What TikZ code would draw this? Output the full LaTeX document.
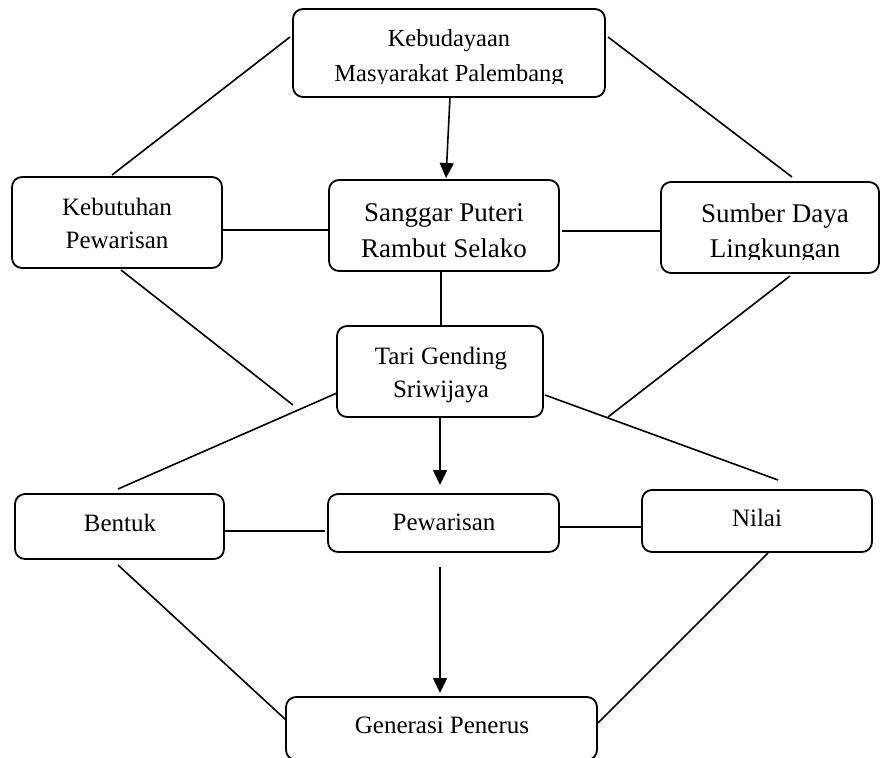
\documentclass[tikz,border=0pt]{standalone}
\usepackage{fontspec}
\setmainfont{Liberation Serif}
\usetikzlibrary{arrows.meta,calc}
\begin{document}
\begin{tikzpicture}[x=1pt,y=-1pt,
  box/.style={draw=black, line width=1.8pt, rounded corners=10pt, inner sep=0pt, outer sep=0pt},
  txt/.style={anchor=base, inner sep=0pt, outer sep=0pt, text=black},
  conn/.style={draw=black, line width=1.6pt},
  arr/.style={conn, -{Triangle[length=15pt,width=14pt]}},
  fs/.style={font=\fontsize{24.5}{29}\selectfont},
  fm/.style={font=\fontsize{25}{30}\selectfont},
  fl/.style={font=\fontsize{27}{32}\selectfont}
]
\useasboundingbox (0,0) rectangle (880,757);
\clip (0,0) rectangle (880,757);

% boxes
\node[box, minimum width=312pt, minimum height=88pt] (top) at (449,53) {};
\node[box, minimum width=210pt, minimum height=91pt] (kb) at (117,222.5) {};
\node[box, minimum width=230pt, minimum height=91pt] (sg) at (444,225.5) {};
\node[box, minimum width=218pt, minimum height=91pt] (sd) at (770,227.5) {};
\node[box, minimum width=206pt, minimum height=91pt] (tg) at (440,371.5) {};
\node[box, minimum width=209pt, minimum height=65pt] (bt) at (119.5,526.5) {};
\node[box, minimum width=231pt, minimum height=58pt] (pw) at (443.5,523) {};
\node[box, minimum width=230pt, minimum height=62pt] (nl) at (757,521) {};
\node[box, minimum width=311pt, minimum height=63pt] (gp) at (441.5,728.5) {};

% texts
\node[txt, fs] (topa) at (449,47) {Kebudayaan};
\begin{scope}
  \clip (293,9) rectangle (605,84);
  \node[txt, fs] (topb) at (449,82) {Masyarakat Palembang};
\end{scope}
\node[txt, fm] (kba) at (117,215) {Kebutuhan};
\node[txt, fm] (kbb) at (117,248) {Pewarisan};
\node[txt, fl] (sga) at (444,221) {Sanggar Puteri};
\node[txt, fl] (sgb) at (444,257) {Rambut Selako};
\node[txt, fl] (sda) at (775,222) {Sumber Daya};
\begin{scope}
  \clip (661,182) rectangle (879,259);
  \node[txt, fl] (sdb) at (775,257) {Lingkungan};
\end{scope}
\node[txt, fm] (tga) at (441,364) {Tari Gending};
\node[txt, fm] (tgb) at (441,397) {Sriwijaya};
\node[txt, fm] (btt) at (120,531) {Bentuk};
\node[txt, fm] (pwt) at (444,530) {Pewarisan};
\node[txt, fm] (nlt) at (757,526) {Nilai};
\node[txt, fm] (gpt) at (442,733) {Generasi Penerus};

% free ends
\coordinate (kbend) at (293,405);
\coordinate (sdend) at (608,417);

% connectors
\draw[conn] ($(top.north west)+(-3,28)$) -- ($(kb.north west)+(100,-2)$);
\draw[conn] ($(top.north east)+(3,28)$) -- ($(sd.north west)+(131,-5)$);
\draw[arr] ($(top.south)+(1,0)$) -- ($(sg.north)+(2,-2)$);
\draw[conn] ($(kb.east)+(0,7.5)$) -- ($(sg.west)+(-1,4.5)$);
\draw[conn] ($(sg.east)+(3,5.5)$) -- ($(sd.west)+(0,3.5)$);
\draw[conn] ($(sg.south)+(-3,0)$) -- ($(tg.north)+(1,0)$);
\draw[conn] ($(kb.south)+(4,2)$) -- (kbend);
\draw[conn] ($(sd.south)+(20,3)$) -- (sdend);
\draw[conn] ($(tg.west)+(0,21.5)$) -- ($(bt.north)+(-1.5,-5)$);
\draw[conn] ($(tg.east)+(2,23.5)$) -- ($(nl.north)+(21,-10)$);
\draw[arr] (tg.south) -- ($(pw.north)+(-3.5,-9)$);
\draw[conn] ($(bt.east)+(0,4.5)$) -- ($(pw.west)+(-3,8)$);
\draw[conn] ($(pw.east)+(0,4)$) -- ($(nl.west)+(1,6)$);
\draw[arr] ($(pw.south)+(-3.5,15)$) -- ($(gp.north)+(-1.5,-4)$);
\draw[conn] ($(bt.south)+(-1.5,6)$) -- ($(gp.west)+(0,-8.5)$);
\draw[conn] ($(nl.south)+(11,1)$) -- ($(gp.east)+(1,-5.5)$);
\end{tikzpicture}
\end{document}
